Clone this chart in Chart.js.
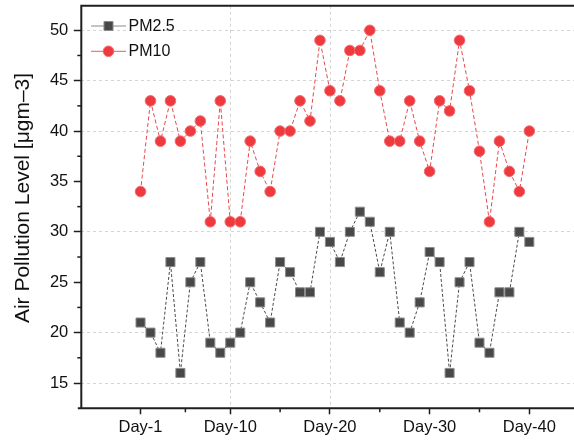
<!DOCTYPE html>
<html>
<head>
<meta charset="utf-8">
<script src="https://cdn.jsdelivr.net/npm/chart.js@4"></script>
<style>
  html, body { margin: 0; padding: 0; background: #fff; overflow: hidden; }
  #wrap { width: 574px; height: 441px; }
  canvas { display: block; }
</style>
</head>
<body>
<div id="wrap"><canvas id="chart" width="574" height="441"></canvas></div>
<script>
const days = Array.from({ length: 40 }, (_, i) => i + 1);
const pm25 = [21, 20, 18, 27, 16, 25, 27, 19, 18, 19,
              20, 25, 23, 21, 27, 26, 24, 24, 30, 29,
              27, 30, 32, 31, 26, 30, 21, 20, 23, 28,
              27, 16, 25, 27, 19, 18, 24, 24, 30, 29];
const pm10 = [34, 43, 39, 43, 39, 40, 41, 31, 43, 31,
              31, 39, 36, 34, 40, 40, 43, 41, 49, 44,
              43, 48, 48, 50, 44, 39, 39, 43, 39, 36,
              43, 42, 49, 44, 38, 31, 39, 36, 34, 40];

const xTickDays = [1, 10, 20, 30, 40];
const xTickLabels = ['Day-1', 'Day-10', 'Day-20', 'Day-30', 'Day-40'];
const xMinorDays = [5.5, 15, 25, 35];
const xGridDays = [10, 20];
const yTicks = [15, 20, 25, 30, 35, 40, 45, 50];
const yMinor = [17.5, 22.5, 27.5, 32.5, 37.5, 42.5, 47.5];
const yGridValues = [15, 20, 30, 40, 45, 50];
const yTitle = 'Air Pollution Level [μgm–3]';

const FONT = "'Liberation Sans', Arial, sans-serif";
const AXIS = '#1e1e1e';
const GRID = '#d4d4d4';

const framePlugin = {
    id: 'frame',
    beforeDatasetsDraw(chart) {
        // vertical dashed grid (only at Day-10 / Day-20 like the original)
        const ctx = chart.ctx, a = chart.chartArea, xs = chart.scales.x;
        ctx.save();
        ctx.strokeStyle = GRID;
        ctx.lineWidth = 1;
        ctx.setLineDash([3, 3]);
        xGridDays.forEach(v => {
            const px = Math.round(xs.getPixelForValue(v)) + 0.5;
            ctx.beginPath(); ctx.moveTo(px, a.top); ctx.lineTo(px, a.bottom); ctx.stroke();
        });
        ctx.restore();
    },
    afterDraw(chart) {
        const ctx = chart.ctx;
        const a = chart.chartArea;
        const xs = chart.scales.x, ys = chart.scales.y;
        ctx.save();
        ctx.strokeStyle = AXIS;
        ctx.lineWidth = 1.5;
        yMinor.forEach(v => {
            const py = ys.getPixelForValue(v);
            ctx.beginPath(); ctx.moveTo(a.left - 4, py); ctx.lineTo(a.left, py); ctx.stroke();
        });
        xMinorDays.forEach(v => {
            const px = xs.getPixelForValue(v);
            ctx.beginPath(); ctx.moveTo(px, a.bottom); ctx.lineTo(px, a.bottom + 4); ctx.stroke();
        });
        ctx.lineWidth = 2;
        ctx.beginPath();
        ctx.moveTo(a.left - 3.5, a.bottom); ctx.lineTo(a.right + 2, a.bottom);
        ctx.moveTo(a.left, a.bottom); ctx.lineTo(a.left, a.top);
        ctx.moveTo(a.left - 1, a.top); ctx.lineTo(a.right + 2, a.top);
        ctx.stroke();

        // axis title
        ctx.save();
        ctx.translate(23, 198);
        ctx.rotate(-Math.PI / 2);
        ctx.fillStyle = '#111';
        ctx.font = '21px ' + FONT;
        ctx.textAlign = 'center';
        ctx.textBaseline = 'middle';
        ctx.fillText(yTitle, 0, 0);
        ctx.restore();

        // legend
        chart.data.datasets.forEach((ds, i) => {
            const y = 26 + i * 25.3;
            ctx.setLineDash([]);
            ctx.lineWidth = 1;
            ctx.strokeStyle = ds.legendLine;
            ctx.beginPath(); ctx.moveTo(91, y); ctx.lineTo(126, y); ctx.stroke();
            ctx.fillStyle = ds.pointBackgroundColor;
            ctx.strokeStyle = ds.pointBorderColor;
            ctx.beginPath();
            if (ds.pointStyle === 'rect') {
                const s = ds.pointRadius * Math.SQRT1_2;
                ctx.rect(108.5 - s, y - s, 2 * s, 2 * s);
            } else {
                ctx.arc(108.5, y, ds.pointRadius, 0, Math.PI * 2);
            }
            ctx.fill(); ctx.stroke();
            ctx.fillStyle = '#111';
            ctx.font = '16px ' + FONT;
            ctx.textBaseline = 'middle';
            ctx.textAlign = 'left';
            ctx.fillText(ds.label, 128.5, y + 0.5);
        });
        ctx.restore();
    }
};

new Chart(document.getElementById('chart'), {
    type: 'line',
    data: {
        datasets: [{
            label: 'PM2.5',
            data: days.map((d, i) => ({ x: d, y: pm25[i] })),
            borderColor: '#4a4a4a',
            borderWidth: 1,
            borderDash: [3, 2],
            legendLine: '#8a8a8a',
            pointStyle: 'rect',
            pointRadius: 6.4,
            pointBackgroundColor: '#484848',
            pointBorderColor: '#8c8c8c',
            pointBorderWidth: 1
        }, {
            label: 'PM10',
            data: days.map((d, i) => ({ x: d, y: pm10[i] })),
            borderColor: '#e8474b',
            borderWidth: 1,
            borderDash: [4, 2.5],
            legendLine: '#ee5a5e',
            pointStyle: 'circle',
            pointRadius: 5.3,
            pointBackgroundColor: '#ee3a3e',
            pointBorderColor: '#f26a6d',
            pointBorderWidth: 1
        }]
    },
    options: {
        responsive: false,
        animation: false,
        layout: { autoPadding: false, padding: { left: 0, top: 5.7, right: 0, bottom: 0 } },
        plugins: { legend: { display: false }, tooltip: { enabled: false } },
        scales: {
            x: {
                type: 'linear',
                min: -4.94,
                max: 44.48,
                afterBuildTicks: s => { s.ticks = xTickDays.map(v => ({ value: v })); },
                afterFit: s => { s.height = 32.7; s.paddingLeft = 0; s.paddingRight = 0; },
                border: { display: false },
                grid: {
                    drawOnChartArea: false,
                    tickLength: 6,
                    tickColor: AXIS,
                    tickWidth: 1.5
                },
                ticks: {
                    padding: 3,
                    maxRotation: 0,
                    autoSkip: false,
                    color: '#111',
                    font: { family: FONT, size: 16.5 },
                    callback: v => xTickLabels[xTickDays.indexOf(v)]
                }
            },
            y: {
                min: 12.49,
                max: 52.44,
                afterBuildTicks: s => { s.ticks = yTicks.map(v => ({ value: v })); },
                afterFit: s => { s.width = 81.3; s.paddingTop = 0; s.paddingBottom = 0; },
                border: { display: false, dash: [3, 3] },
                grid: {
                    color: c => yGridValues.includes(c.tick && c.tick.value) ? GRID : 'rgba(0,0,0,0)',
                    lineWidth: 1,
                    tickLength: 7.5,
                    tickColor: AXIS,
                    tickWidth: 1.5
                },
                ticks: {
                    padding: 5.5,
                    color: '#111',
                    font: { family: FONT, size: 16.5 }
                }
            }
        }
    },
    plugins: [framePlugin]
});
</script>
</body>
</html>
